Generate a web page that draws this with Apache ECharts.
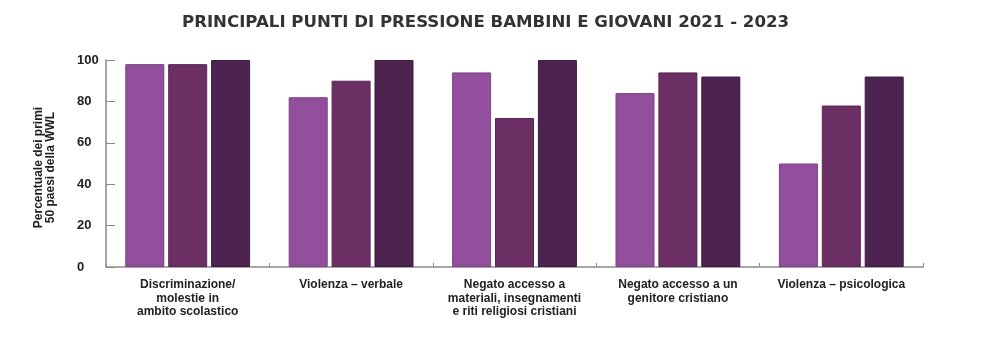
<!DOCTYPE html>
<html>
<head>
<meta charset="utf-8">
<script src="https://cdn.jsdelivr.net/npm/echarts@6/dist/echarts.min.js"></script>
<style>html,body{margin:0;padding:0;background:#fff;}#c{width:994px;height:347px;}</style>
</head>
<body>
<div id="c"></div>
<script>
const titleText = 'PRINCIPALI PUNTI DI PRESSIONE BAMBINI E GIOVANI 2021 - 2023';
const yAxisTitle = 'Percentuale dei primi\n50 paesi della WWL';
const categories = [
  'Discriminazione/\nmolestie in\nambito scolastico',
  'Violenza – verbale',
  'Negato accesso a\nmateriali, insegnamenti\ne riti religiosi cristiani',
  'Negato accesso a un\ngenitore cristiano',
  'Violenza – psicologica'
];
const seriesNames = ['2021', '2022', '2023'];
const values2021 = [98, 82, 94, 84, 50];
const values2022 = [98, 90, 72, 94, 78];
const values2023 = [100, 100, 100, 92, 92];
const yTicks = [0, 20, 40, 60, 80, 100];

const colors = ['#924f9b', '#6b2f64', '#4d2350'];
const borders = ['#7d3f86', '#5a2554', '#3e1a41'];
const font = '"Liberation Sans Narrow", "Liberation Sans", Arial, sans-serif';

const chart = echarts.init(document.getElementById('c'));
const allValues = [values2021, values2022, values2023];
chart.setOption({
  animation: false,
  title: {
    text: titleText,
    left: 177,
    top: 9,
    textStyle: { fontFamily: '"DejaVu Sans", sans-serif', fontWeight: 'bold', fontSize: 16.6, color: '#333' }
  },
  grid: { left: 106, right: 71, top: 60, bottom: 80 },
  xAxis: {
    type: 'category',
    data: categories,
    axisLine: { lineStyle: { color: '#8a8a8a', width: 1.5 } },
    axisTick: { show: true, inside: true, length: 4, lineStyle: { color: '#8a8a8a' } },
    axisLabel: {
      interval: 0,
      margin: 11,
      fontFamily: font,
      fontWeight: 'bold',
      fontSize: 12,
      lineHeight: 13.5,
      color: '#222'
    }
  },
  yAxis: {
    type: 'value',
    min: yTicks[0],
    max: yTicks[yTicks.length - 1],
    interval: 20,
    name: yAxisTitle,
    nameLocation: 'middle',
    nameGap: 49,
    nameRotate: 90,
    nameTextStyle: { fontFamily: font, fontWeight: 'bold', fontSize: 12, lineHeight: 12.5, color: '#222', padding: [0, 8, 0, 0] },
    axisLine: { show: true, lineStyle: { color: '#8a8a8a', width: 1.5 } },
    axisTick: { show: true, inside: true, length: 9, lineStyle: { color: '#8a8a8a' } },
    splitLine: { show: false },
    axisLabel: {
      margin: 29,
      align: 'left',
      fontFamily: '"Liberation Sans", Arial, sans-serif',
      fontWeight: 'bold',
      fontSize: 13,
      color: '#222'
    }
  },
  series: seriesNames.map((n, i) => ({
    name: n,
    type: 'bar',
    data: allValues[i],
    barWidth: 39,
    barGap: '10%',
    itemStyle: { color: colors[i], borderColor: borders[i], borderWidth: 1 }
  }))
});
</script>
</body>
</html>
